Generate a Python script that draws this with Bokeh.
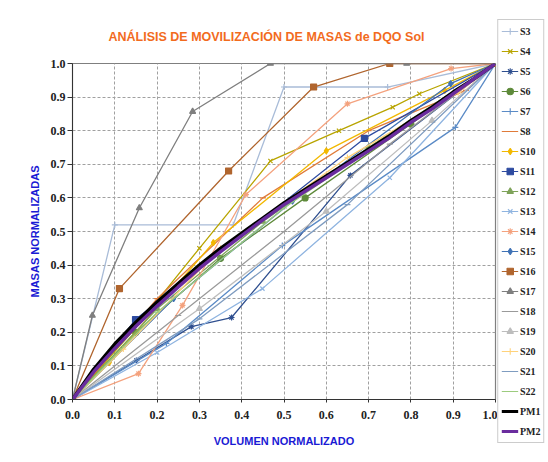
from bokeh.plotting import figure
from bokeh.layouts import row
from bokeh.models import Range1d, Legend, LegendItem, FixedTicker
from bokeh.embed import file_html
from bokeh.resources import INLINE

# ---- data ----
S3_x = [0, 0.10, 0.38, 0.50, 0.745, 1.0]
S3_y = [0, 0.52, 0.52, 0.93, 0.93, 1.0]
S4_x = [0, 0.14, 0.30, 0.468, 0.63, 0.757, 0.82, 1.0]
S4_y = [0, 0.20, 0.45, 0.71, 0.80, 0.87, 0.91, 1.0]
S5_x = [0, 0.151, 0.281, 0.376, 0.657, 1.0]
S5_y = [0, 0.116, 0.217, 0.244, 0.667, 1.0]
S6_x = [0, 0.15, 0.35, 0.55, 0.80, 1.0]
S6_y = [0, 0.20, 0.42, 0.60, 0.82, 1.0]
S7_x = [0, 0.222, 0.496, 0.905, 1.0]
S7_y = [0, 0.167, 0.458, 0.81, 1.0]
S8_x = [0, 0.20, 0.45, 0.70, 0.93, 1.0]
S8_y = [0, 0.30, 0.60, 0.80, 0.92, 1.0]
S10_x = [0, 0.087, 0.333, 0.60, 0.88, 1.0]
S10_y = [0, 0.11, 0.467, 0.74, 0.92, 1.0]
S11_x = [0, 0.149, 0.69, 1.0]
S11_y = [0, 0.238, 0.777, 1.0]
S12_x = [0, 0.20, 0.45, 0.70, 1.0]
S12_y = [0, 0.27, 0.53, 0.75, 1.0]
S13_x = [0, 0.20, 0.449, 0.75, 1.0]
S13_y = [0, 0.14, 0.33, 0.66, 1.0]
S14_x = [0, 0.156, 0.26, 0.41, 0.65, 0.895, 1.0]
S14_y = [0, 0.077, 0.28, 0.61, 0.88, 0.985, 1.0]
S15_x = [0, 0.239, 0.52, 0.894, 1.0]
S15_y = [0, 0.30, 0.59, 0.94, 1.0]
S16_x = [0, 0.111, 0.369, 0.57, 0.75, 1.0]
S16_y = [0, 0.33, 0.68, 0.93, 1.0, 1.0]
S17_x = [0, 0.047, 0.158, 0.284, 0.468, 0.79, 1.0]
S17_y = [0, 0.25, 0.57, 0.857, 1.0, 1.0, 1.0]
S18_x = [0, 0.25, 0.50, 0.75, 1.0]
S18_y = [0, 0.25, 0.50, 0.76, 1.0]
S19_x = [0, 0.30, 0.60, 0.85, 1.0]
S19_y = [0, 0.27, 0.56, 0.83, 1.0]
S20_x = [0, 0.12, 0.35, 0.65, 0.912, 1.0]
S20_y = [0, 0.15, 0.45, 0.72, 0.914, 1.0]
S21_x = [0, 0.30, 0.65, 1.0]
S21_y = [0, 0.24, 0.58, 1.0]
S22_x = [0, 0.20, 0.50, 0.80, 1.0]
S22_y = [0, 0.26, 0.57, 0.83, 1.0]
PM_x = [0, 0.05, 0.10, 0.15, 0.20, 0.25, 0.30, 0.35, 0.40, 0.45, 0.50,
        0.55, 0.60, 0.65, 0.70, 0.75, 0.80, 0.85, 0.90, 0.95, 1.0]
PM1_y = [0, 0.09, 0.165, 0.23, 0.29, 0.345, 0.40, 0.45, 0.495, 0.54, 0.585,
         0.625, 0.665, 0.705, 0.745, 0.785, 0.83, 0.87, 0.915, 0.955, 1.0]
PM2_y = [0, 0.082, 0.152, 0.218, 0.278, 0.335, 0.39, 0.44, 0.488, 0.535, 0.58,
         0.62, 0.66, 0.70, 0.74, 0.78, 0.825, 0.865, 0.91, 0.955, 1.0]
ticks = [0, 0.1, 0.2, 0.3, 0.4, 0.5, 0.6, 0.7, 0.8, 0.9, 1.0]
tick_labels = ["0.0", "0.1", "0.2", "0.3", "0.4", "0.5", "0.6", "0.7", "0.8", "0.9", "1.0"]

series = [
    ("S3", S3_x, S3_y, "#A9BCD8", "cross"),
    ("S4", S4_x, S4_y, "#B8A400", "x"),
    ("S5", S5_x, S5_y, "#2F4F8F", "asterisk"),
    ("S6", S6_x, S6_y, "#5E8A3A", "circle"),
    ("S7", S7_x, S7_y, "#5B8BC6", "cross"),
    ("S8", S8_x, S8_y, "#E07B39", "dash"),
    ("S10", S10_x, S10_y, "#F2B800", "diamond"),
    ("S11", S11_x, S11_y, "#2E4BA0", "square"),
    ("S12", S12_x, S12_y, "#7FA35A", "triangle"),
    ("S13", S13_x, S13_y, "#8FB4E0", "x"),
    ("S14", S14_x, S14_y, "#F4A27E", "asterisk"),
    ("S15", S15_x, S15_y, "#3F72B5", "diamond"),
    ("S16", S16_x, S16_y, "#B0652E", "square"),
    ("S17", S17_x, S17_y, "#7F7F7F", "triangle"),
    ("S18", S18_x, S18_y, "#9A9A9A", "dash"),
    ("S19", S19_x, S19_y, "#BDBDBD", "triangle"),
    ("S20", S20_x, S20_y, "#FFD27A", "cross"),
    ("S21", S21_x, S21_y, "#7F9CC0", "dash"),
    ("S22", S22_x, S22_y, "#9CCB7E", "dash"),
]

FONT = "Liberation Sans Narrow"

p = figure(width=497, height=454, output_backend="svg", toolbar_location=None,
           x_range=Range1d(0, 1), y_range=Range1d(0, 1),
           min_border_left=72, min_border_right=2, min_border_top=63, min_border_bottom=55,
           title="ANÁLISIS DE MOVILIZACIÓN DE MASAS de DQO Sol")
p.background_fill_color = "white"
p.border_fill_color = "white"
p.outline_line_color = "#7F7F7F"
p.outline_line_width = 1.2

p.title.text_color = "#F26B1D"
p.title.text_font = "Liberation Sans"
p.title.text_font_size = "12.5px"
p.title.text_font_style = "bold"
p.title.align = "left"
p.title.offset = 36
p.title.standoff = 40

for ax in (p.xaxis[0], p.yaxis[0]):
    ax.ticker = FixedTicker(ticks=ticks)
    ax.major_label_overrides = {t: l for t, l in zip(ticks, tick_labels)}
    ax.major_label_text_font = FONT
    ax.major_label_text_font_style = "bold"
    ax.major_label_text_font_size = "12px"
    ax.major_label_text_color = "#222222"
    ax.minor_tick_line_color = None
    ax.major_tick_in = 0
    ax.axis_line_color = "#333333"
    ax.major_tick_line_color = "#333333"
    ax.axis_label_text_color = "#1A1AD4"
    ax.axis_label_text_font = "Liberation Sans"
    ax.axis_label_text_font_style = "bold"
    ax.axis_label_text_font_size = "11px"

p.yaxis[0].major_tick_out = 5
p.yaxis[0].major_label_standoff = 2
p.yaxis[0].axis_label = "MASAS NORMALIZADAS"
p.yaxis[0].axis_label_standoff = 7
p.xaxis[0].major_tick_out = 3
p.xaxis[0].major_label_standoff = 8
p.xaxis[0].axis_label = "VOLUMEN NORMALIZADO"
p.xaxis[0].axis_label_standoff = 13

for g in (p.xgrid[0], p.ygrid[0]):
    g.ticker = FixedTicker(ticks=ticks)
    g.grid_line_color = "#A0A0A0"
    g.grid_line_dash = "3 2"
    g.grid_line_width = 1

# legend figure (separate panel to the right); its ranges keep its copies out of view
q = figure(width=47, height=454, output_backend="svg", toolbar_location=None,
           x_range=Range1d(2, 3), y_range=Range1d(2, 3),
           min_border_left=0, min_border_right=0, min_border_top=0, min_border_bottom=0,
           x_axis_type=None, y_axis_type=None)
q.outline_line_color = None
q.xgrid.visible = False
q.ygrid.visible = False
q.background_fill_color = "white"
q.border_fill_color = "white"

items = []
for name, xs, ys, col, mk in series:
    p.line(xs, ys, line_color=col, line_width=1.3)
    p.scatter(xs, ys, marker=mk, size=6, line_color=col, fill_color=col, line_width=1.2)
    l1 = q.line(xs, ys, line_color=col, line_width=1.2)
    l2 = q.scatter(xs, ys, marker=mk, size=5, line_color=col, fill_color=col, line_width=1.1)
    items.append(LegendItem(label=name, renderers=[l1, l2]))

p.line(PM_x, PM1_y, line_color="#000000", line_width=3.5)
p.line(PM_x, PM2_y, line_color="#6A2C9E", line_width=3.5)
k1 = q.line(PM_x, PM1_y, line_color="#000000", line_width=3)
k2 = q.line(PM_x, PM2_y, line_color="#6A2C9E", line_width=3)
items.append(LegendItem(label="PM1", renderers=[k1]))
items.append(LegendItem(label="PM2", renderers=[k2]))

legend = Legend(items=items, location="center")
legend.label_text_font = FONT
legend.label_text_font_style = "bold"
legend.label_text_font_size = "10px"
legend.label_text_color = "#222222"
legend.glyph_width = 17
legend.glyph_height = 16
legend.label_height = 16
legend.label_width = 10
legend.label_standoff = 2
legend.spacing = 4
legend.padding = 3
legend.margin = 1
legend.border_line_color = "#9A9A9A"
legend.background_fill_color = "white"
legend.background_fill_alpha = 1
q.add_layout(legend, "left")

layout = row(p, q)
open("out.html", "w").write(file_html(layout, INLINE))
